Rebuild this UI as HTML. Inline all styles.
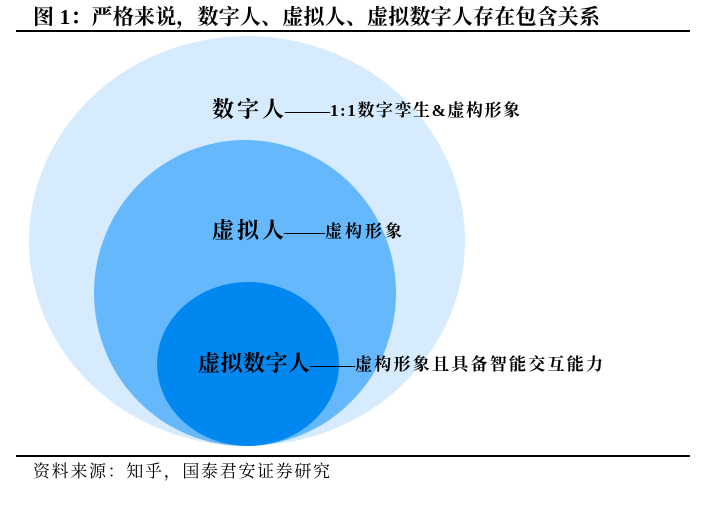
<!DOCTYPE html>
<html><head><meta charset="utf-8"><style>
body{margin:0;width:705px;height:508px;background:#fff;position:relative;overflow:hidden;font-family:"Liberation Serif","Noto Serif CJK SC",serif;}
</style></head><body>
<svg width="705" height="508" style="position:absolute;left:0;top:0" font-family="Liberation Serif,Noto Serif CJK SC,serif">
<text x="33" y="24" font-size="21" font-weight="bold" textLength="567" lengthAdjust="spacing">图 1：严格来说，数字人、虚拟人、虚拟数字人存在包含关系</text>
<rect x="16" y="30" width="674" height="2" fill="#000"/>
<ellipse cx="247" cy="241" rx="218" ry="205" fill="#d6ebfd"/>
<ellipse cx="245" cy="293" rx="151" ry="153" fill="#66b8fd"/>
<ellipse cx="248" cy="364" rx="91" ry="82" fill="#0087f0"/>
<g font-weight="bold">
<text x="212" y="117" font-size="22" textLength="72" lengthAdjust="spacing">数字人</text>
<text x="285" y="116" font-size="15" textLength="45" lengthAdjust="spacingAndGlyphs">——</text>
<text x="330" y="116" font-size="17" textLength="190" lengthAdjust="spacing">1:1数字孪生&amp;虚构形象</text>
<text x="212" y="238" font-size="22" textLength="72" lengthAdjust="spacing">虚拟人</text>
<text x="284" y="237" font-size="15" textLength="41" lengthAdjust="spacingAndGlyphs">——</text>
<text x="325" y="237" font-size="17" textLength="77" lengthAdjust="spacing">虚构形象</text>
<text x="198" y="371" font-size="22" textLength="112" lengthAdjust="spacing">虚拟数字人</text>
<text x="310" y="370" font-size="15" textLength="45" lengthAdjust="spacingAndGlyphs">——</text>
<text x="355" y="370" font-size="17" textLength="248" lengthAdjust="spacing">虚构形象且具备智能交互能力</text>
</g>
<rect x="16" y="455" width="674" height="2" fill="#000"/>
<text x="33" y="477" font-size="17" textLength="297" lengthAdjust="spacing">资料来源：知乎，国泰君安证券研究</text>
</svg>
</body></html>
